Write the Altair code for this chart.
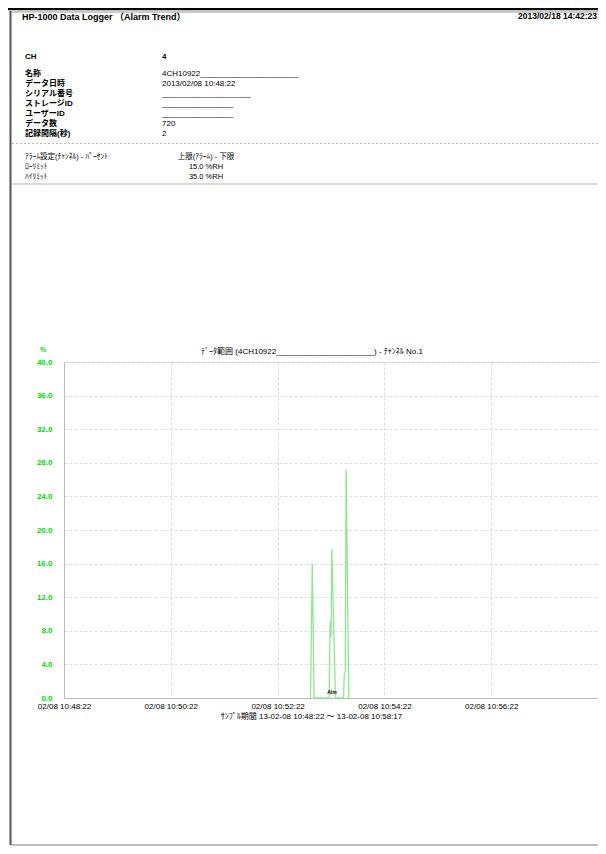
import altair as alt
import pandas as pd

FONT = "Liberation Sans, Noto Sans CJK JP"

# ---- data -------------------------------------------------------------
times = ["2013-02-08T10:52:59", "2013-02-08T10:53:01", "2013-02-08T10:53:03",
         "2013-02-08T10:53:20", "2013-02-08T10:53:21", "2013-02-08T10:53:22",
         "2013-02-08T10:53:23", "2013-02-08T10:53:25", "2013-02-08T10:53:27",
         "2013-02-08T10:53:36", "2013-02-08T10:53:37", "2013-02-08T10:53:38",
         "2013-02-08T10:53:39", "2013-02-08T10:53:42"]
values = [0.0, 16.0, 0.0,
          0.0, 9.1, 7.2,
          17.7, 8.6, 0.0,
          0.0, 2.9, 3.0,
          27.2, 0.0]

marker_time = ["2013-02-08T10:53:23"]
marker_value = [0.7]
marker_text = ["Alm"]

y_ticks = [0, 4, 8, 12, 16, 20, 24, 28, 32, 36, 40]
x_tick_minutes = [48, 50, 52, 54, 56]

header_labels = ["名称", "データ日時", "シリアル番号", "ストレージID", "ユーザーID", "データ数", "記録間隔(秒)"]
header_values = ["4CH10922" + "_" * 22, "2013/02/08 10:48:22", "_" * 20, "_" * 16, "_" * 16, "720", "2"]
alarm_labels = ["ｱﾗｰﾑ設定(ﾁｬﾝﾈﾙ) - ﾊﾟｰｾﾝﾄ", "ﾛｰﾘﾐｯﾄ", "ﾊｲﾘﾐｯﾄ"]
alarm_values = ["上限(ｱﾗｰﾑ) - 下限", "15.0 %RH", "35.0 %RH"]

report_title = "HP-1000 Data Logger （Alarm Trend）"
print_date = "2013/02/18 14:42:23"
ch_label, ch_value = "CH", "4"
chart_title = "ﾃﾞｰﾀ範囲 (4CH10922" + "_" * 22 + ") - ﾁｬﾝﾈﾙ No.1"
x_title = "ｻﾝﾌﾟﾙ期間 13-02-08 10:48:22 ～ 13-02-08 10:58:17"
unit = "%"

# ---- layout constants (page coordinates of the plot origin) ------------
PX0, PY0 = 64, 362
W, H = 534, 336


def dt(m, s=22):
    return alt.DateTime(year=2013, month=2, date=8, hours=10, minutes=m, seconds=s)


df = pd.DataFrame({"time": times, "value": values})
mk = pd.DataFrame({"time": marker_time, "value": marker_value, "t": marker_text})

line = alt.Chart(df).mark_line(color="#8fe88f", strokeWidth=1.3).encode(
    x=alt.X("time:T",
            scale=alt.Scale(domain=[dt(48), dt(58)]),
            axis=alt.Axis(values=[dt(m) for m in x_tick_minutes], tickCount=10,
                          format="%m/%d %H:%M:%S", labelFontSize=8,
                          labelPadding=4, labelFlush=False, labelOverlap=False,
                          ticks=False, domainColor="#bbbbbb",
                          gridColor="#dddddd", gridDash=[3, 2],
                          title=x_title, titleFontSize=8, titleFontWeight="normal",
                          titleX=247, titleY=18, titleBaseline="middle")),
    y=alt.Y("value:Q",
            scale=alt.Scale(domain=[0, 40], nice=False),
            axis=alt.Axis(values=y_ticks, tickCount=20, format=".1f",
                          labelColor="#00dd00",
                          labelFontSize=8, labelFontWeight="bold", ticks=False,
                          labelOverlap=False, labelFlush=False,
                          labelPadding=12, domainColor="#bbbbbb",
                          gridColor="#dddddd", gridDash=[3, 2], title=None)),
)

marker = alt.Chart(mk).mark_text(fontSize=5, fontWeight="bold", color="black").encode(
    x="time:T", y="value:Q", text="t:N")


def txt(s, x, y, size=8, weight="normal", align="left", color="black"):
    return alt.Chart(pd.DataFrame({"t": [s]})).mark_text(
        align=align, baseline="middle", fontSize=size, fontWeight=weight, color=color
    ).encode(x=alt.value(x - PX0), y=alt.value(y - PY0), text="t:N")


def rule(x1, x2, y1, y2, color, width=1, dash=None):
    kw = dict(color=color, strokeWidth=width)
    if dash:
        kw["strokeDash"] = dash
    return alt.Chart(pd.DataFrame({"k": [0]})).mark_rule(**kw).encode(
        x=alt.value(x1 - PX0), x2=alt.value(x2 - PX0),
        y=alt.value(y1 - PY0), y2=alt.value(y2 - PY0))


layers = [line, marker]
layers.append(txt(report_title, 22, 17, size=9, weight="bold"))
layers.append(txt(print_date, 597, 16, size=8.5, weight="bold", align="right"))
layers.append(txt(ch_label, 25, 57, weight="bold"))
layers.append(txt(ch_value, 162, 57, weight="bold"))
for i, (lab, val) in enumerate(zip(header_labels, header_values)):
    layers.append(txt(lab, 25, 74 + 10 * i, weight="bold"))
    layers.append(txt(val, 162, 74 + 10 * i))
for i, (lab, val) in enumerate(zip(alarm_labels, alarm_values)):
    layers.append(txt(lab, 25, 157 + 10 * i, size=7.5))
    layers.append(txt(val, 206, 157 + 10 * i, size=7.5, align="center"))
layers.append(txt(unit, 40, 350, size=7, weight="bold", color="#00dd00"))
layers.append(txt(chart_title, 312, 352, size=8, align="center"))

# frame and separators
layers.append(rule(8, 598, 9, 9, "black", 2.5))
layers.append(rule(10.5, 10.5, 11, 845, "#555555", 2))
layers.append(rule(11, 598, 12, 12, "#999999", 1))
layers.append(rule(12, 598, 143.5, 143.5, "#bbbbbb", 1, [2, 2]))
layers.append(rule(12, 598, 184, 184, "#cccccc", 1.5))
layers.append(rule(11, 598, 845, 845, "#aaaaaa", 1.5))

chart = alt.layer(*layers).properties(
    width=W, height=H,
    autosize=alt.AutoSizeParams(type="none"),
    padding={"left": PX0 - 8, "top": PY0 - 8, "right": 590 - (PX0 - 8) - W,
             "bottom": 838 - (PY0 - 8) - H},
).configure(font=FONT).configure_view(stroke="#c8c8c8")

chart.save("out.html", embed_options={"renderer": "svg", "actions": False})
